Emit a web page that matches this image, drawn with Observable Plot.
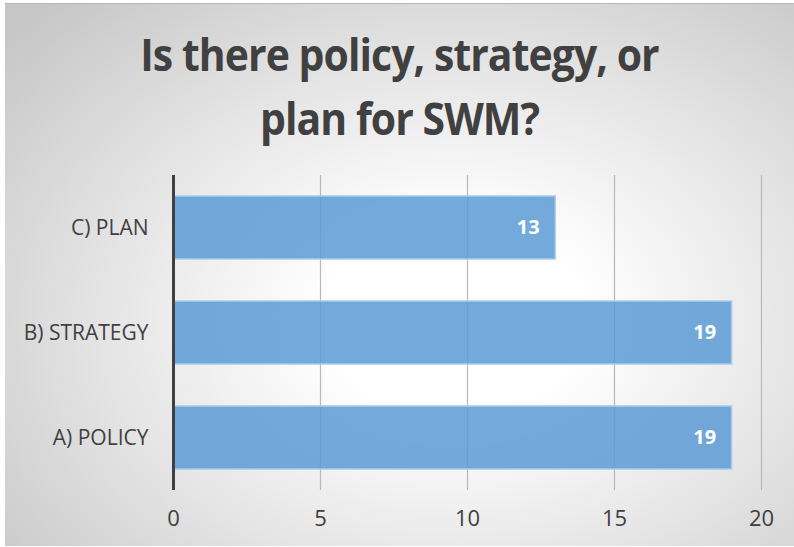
<!DOCTYPE html>
<html>
<head>
<meta charset="utf-8">
<script src="https://cdn.jsdelivr.net/npm/d3@7"></script>
<script src="https://cdn.jsdelivr.net/npm/@observablehq/plot@0.6"></script>
<style>
  html, body { margin: 0; padding: 0; background: #ffffff; }
  #frame {
    position: absolute; left: 5px; top: 3px; width: 789px; height: 542px;
    background: radial-gradient(ellipse 75% 80% at 57% 58%, #ffffff 22%, #e4e4e4 60%, #c6c6c6 100%);
    border-top: 1px solid #b8b8b8;
    overflow: hidden;
  }
  .tline {
    position: absolute; left: 0; width: 789px; text-align: center;
    font-family: "Open Sans", sans-serif; font-weight: 700; font-size: 44px;
    color: #404040; line-height: 60px; letter-spacing: -1px;
    transform: scaleX(0.93); transform-origin: 50% 50%;
  }
  #chart { position: absolute; left: -5px; top: 162px; }
</style>
</head>
<body>
<div id="frame">
  <div class="tline" style="top:20px">Is there policy, strategy, or</div>
  <div class="tline" style="top:84px">plan for SWM?</div>
  <div id="chart"></div>
</div>
<script>
const categories = ["C) PLAN", "B) STRATEGY", "A) POLICY"];
const values = [13, 19, 19];
const xTicks = [0, 5, 10, 15, 20];

const data = categories.map((c, i) => ({category: c, value: values[i]}));

const plot = Plot.plot({
  width: 794,
  height: 382,
  marginLeft: 173,
  marginRight: 33,
  marginTop: 9,
  marginBottom: 58,
  style: {background: "transparent", fontFamily: "'Open Sans', sans-serif", color: "#404040"},
  x: {domain: [0, 20], ticks: xTicks, label: null},
  y: {domain: categories, paddingInner: 0.4, paddingOuter: 0.2, label: null},
  marks: [
    Plot.ruleX(xTicks.slice(1), {stroke: "#b8b8b8", strokeWidth: 1.2}),
    Plot.barX(data, {x: "value", y: "category", fill: "#5b9bd5", fillOpacity: 0.85, stroke: "#a9cbeb", strokeWidth: 1.5}),
    Plot.ruleX([0], {stroke: "#404040", strokeWidth: 3}),
    Plot.text(data, {x: "value", y: "category", text: d => String(d.value), textAnchor: "end", dx: -16, fill: "white", fontWeight: "bold", fontSize: 20}),
    Plot.axisX({ticks: xTicks, tickSize: 0, tickPadding: 20, fontSize: 22, fill: "#404040", label: null}),
    Plot.axisY({tickSize: 0, tickPadding: 25, fontSize: 21, fill: "#404040", label: null})
  ]
});
document.getElementById("chart").appendChild(plot);
</script>
</body>
</html>
